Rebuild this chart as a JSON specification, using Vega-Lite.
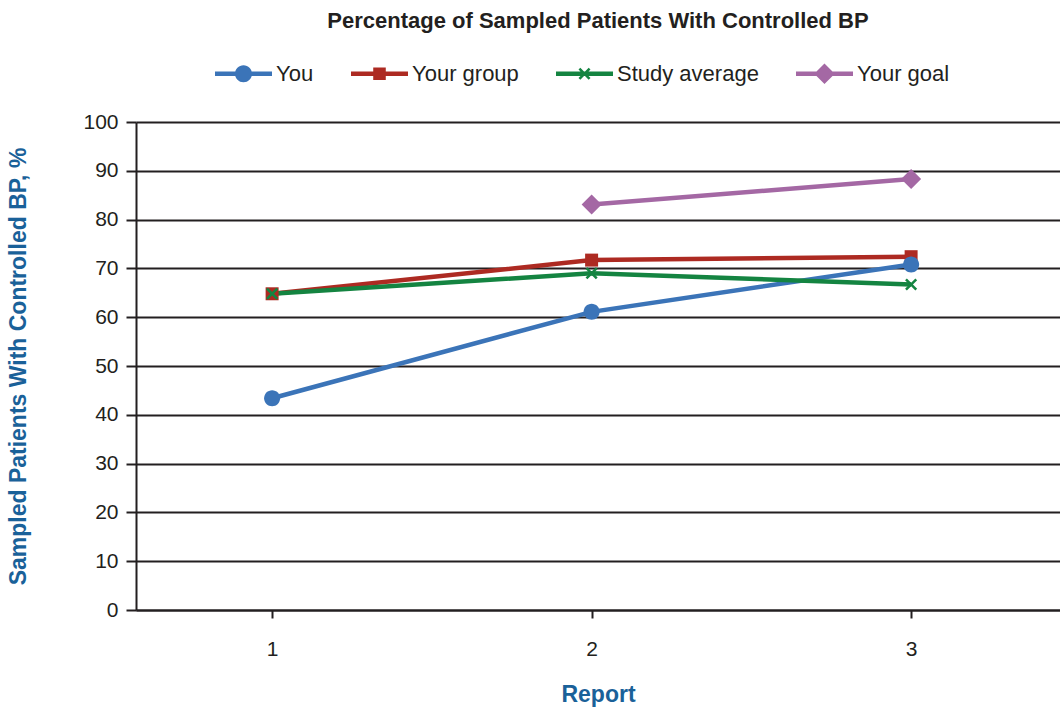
{
  "$schema": "https://vega.github.io/schema/vega-lite/v6.json",
  "width": 924,
  "height": 488,
  "autosize": {"type": "none"},
  "padding": {"left": 136, "top": 122, "right": 0, "bottom": 97},
  "background": "white",
  "title": {
    "text": "Percentage of Sampled Patients  With Controlled BP",
    "font": "Liberation Sans",
    "fontSize": 22,
    "fontWeight": "bold",
    "color": "#231f20",
    "anchor": "middle",
    "offset": 12
  },
  "config": {
    "view": {"stroke": null},
    "axis": {
      "labelFont": "Liberation Sans",
      "labelFontSize": 21,
      "labelColor": "#231f20",
      "titleFont": "Liberation Sans",
      "titleFontSize": 23,
      "titleFontWeight": "bold",
      "titleColor": "#1a6199",
      "domainColor": "#231f20",
      "domainWidth": 2,
      "tickColor": "#231f20",
      "tickWidth": 2
    },
    "legend": {
      "labelFont": "Liberation Sans",
      "labelFontSize": 22,
      "labelColor": "#231f20"
    }
  },
  "data": {
    "values": [
      {"report": 1, "series": "You", "value": 43.4},
      {"report": 2, "series": "You", "value": 61.1},
      {"report": 3, "series": "You", "value": 70.8},
      {"report": 1, "series": "Your group", "value": 64.8},
      {"report": 2, "series": "Your group", "value": 71.7},
      {"report": 3, "series": "Your group", "value": 72.4},
      {"report": 1, "series": "Study average", "value": 64.8},
      {"report": 2, "series": "Study average", "value": 69.0},
      {"report": 3, "series": "Study average", "value": 66.7},
      {"report": 2, "series": "Your goal", "value": 83.1},
      {"report": 3, "series": "Your goal", "value": 88.3}
    ]
  },
  "encoding": {
    "x": {
      "field": "report",
      "type": "quantitative",
      "scale": {"domain": [0.574, 3.466], "nice": false, "zero": false},
      "axis": {
        "values": [1, 2, 3],
        "format": "d",
        "grid": false,
        "tickSize": 8,
        "labelPadding": 20,
        "title": "Report",
        "titlePadding": 24
      }
    },
    "y": {
      "field": "value",
      "type": "quantitative",
      "scale": {"domain": [0, 100], "nice": false},
      "axis": {
        "values": [0, 10, 20, 30, 40, 50, 60, 70, 80, 90, 100],
        "grid": true,
        "gridColor": "#231f20",
        "gridWidth": 2,
        "gridOpacity": 1,
        "tickSize": 10,
        "labelPadding": 8,
        "title": "Sampled Patients With Controlled BP, %",
        "titlePadding": 52
      }
    },
    "color": {
      "field": "series",
      "type": "nominal",
      "scale": {
        "domain": ["You", "Your group", "Study average", "Your goal"],
        "range": ["#3b74b8", "#ad2a22", "#148441", "#a468a4"]
      },
      "legend": {
        "title": null,
        "orient": "none",
        "direction": "horizontal",
        "legendX": 79,
        "legendY": -77,
        "columnPadding": 37,
        "symbolSize": 3249,
        "symbolStrokeWidth": 0,
        "labelOffset": 4,
        "encode": {
          "symbols": {
            "update": {
              "fill": {"scale": "color", "field": "value"},
              "fillOpacity": {"value": 1},
              "strokeWidth": {"value": 0},
              "shape": {"signal": "datum.value === 'You' ? 'M-1,-0.08H1V0.08H-1Z M-0.3,0A0.3,0.3 0 1,1 0.3,0A0.3,0.3 0 1,1 -0.3,0Z' : datum.value === 'Your group' ? 'M-1,-0.08H1V0.08H-1Z M-0.22,-0.22H0.22V0.22H-0.22Z' : datum.value === 'Study average' ? 'M-1,-0.08H1V0.08H-1Z M-0.21,-0.147L-0.147,-0.21L0,-0.063L0.147,-0.21L0.21,-0.147L0.063,0L0.21,0.147L0.147,0.21L0,0.063L-0.147,0.21L-0.21,0.147L-0.063,0Z' : 'M-1,-0.08H1V0.08H-1Z M0,-0.36L0.36,0L0,0.36L-0.36,0Z'"}
            }
          }
        }
      }
    }
  },
  "layer": [
    {
      "mark": {"type": "line", "strokeWidth": 4.5}
    },
    {
      "transform": [{"filter": "datum.series === 'Your goal'"}],
      "mark": {"type": "point", "filled": true, "opacity": 1, "size": 484, "shape": "M0,-0.91L0.91,0L0,0.91L-0.91,0Z"}
    },
    {
      "transform": [{"filter": "datum.series === 'Your group'"}],
      "mark": {"type": "point", "filled": true, "opacity": 1, "size": 484, "shape": "M-0.59,-0.59H0.59V0.59H-0.59Z"}
    },
    {
      "transform": [{"filter": "datum.series === 'Study average'"}],
      "mark": {"type": "point", "filled": true, "opacity": 1, "size": 484, "shape": "M-0.55,-0.385L-0.385,-0.55L0,-0.165L0.385,-0.55L0.55,-0.385L0.165,0L0.55,0.385L0.385,0.55L0,0.165L-0.385,0.55L-0.55,0.385L-0.165,0Z"}
    },
    {
      "transform": [{"filter": "datum.series === 'You'"}],
      "mark": {"type": "point", "filled": true, "opacity": 1, "size": 484, "shape": "M-0.73,0A0.73,0.73 0 1,1 0.73,0A0.73,0.73 0 1,1 -0.73,0Z"}
    }
  ]
}
